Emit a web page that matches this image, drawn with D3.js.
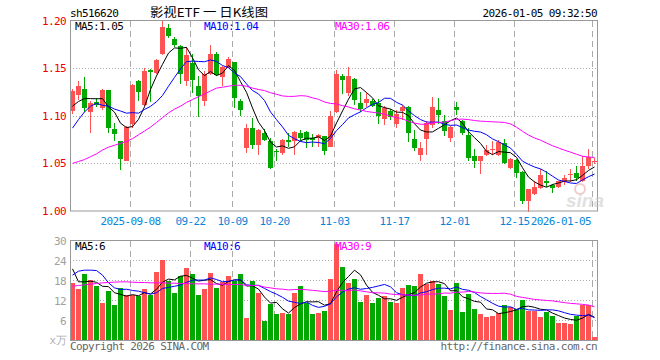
<!DOCTYPE html>
<html><head><meta charset="utf-8">
<script src="https://cdn.jsdelivr.net/npm/d3@7/dist/d3.min.js"></script>
<style>
body{margin:0;background:#fff}
svg{display:block}
text{font-family:"DejaVu Sans Mono","Liberation Mono",monospace;font-size:11px;letter-spacing:-0.6px}
</style>
</head><body>
<svg id="c" width="660" height="360"></svg>
<script>
const dates = [
"2025-08-25","2025-08-26","2025-08-27","2025-08-28","2025-08-29",
"2025-09-01","2025-09-02","2025-09-03","2025-09-04","2025-09-05",
"2025-09-08","2025-09-09","2025-09-10","2025-09-11","2025-09-12",
"2025-09-15","2025-09-16","2025-09-17","2025-09-18","2025-09-19",
"2025-09-22","2025-09-23","2025-09-24","2025-09-25","2025-09-26",
"2025-09-29","2025-09-30","2025-10-09","2025-10-10",
"2025-10-13","2025-10-14","2025-10-15","2025-10-16","2025-10-17",
"2025-10-20","2025-10-21","2025-10-22","2025-10-23","2025-10-24",
"2025-10-27","2025-10-28","2025-10-29","2025-10-30","2025-10-31",
"2025-11-03","2025-11-04","2025-11-05","2025-11-06","2025-11-07",
"2025-11-10","2025-11-11","2025-11-12","2025-11-13","2025-11-14",
"2025-11-17","2025-11-18","2025-11-19","2025-11-20","2025-11-21",
"2025-11-24","2025-11-25","2025-11-26","2025-11-27","2025-11-28",
"2025-12-01","2025-12-02","2025-12-03","2025-12-04","2025-12-05",
"2025-12-08","2025-12-09","2025-12-10","2025-12-11","2025-12-12",
"2025-12-15","2025-12-16","2025-12-17","2025-12-18","2025-12-19",
"2025-12-22","2025-12-23","2025-12-24","2025-12-25","2025-12-26",
"2025-12-29","2025-12-30","2025-12-31","2026-01-05"];

const open = [1.105,1.122,1.128,1.104,1.114,1.108,1.127,1.086,1.073,1.053,
1.091,1.136,1.111,1.148,1.145,1.165,1.192,1.181,1.173,1.136,
1.155,1.131,1.116,1.144,1.165,1.141,1.150,1.156,1.116,1.066,
1.087,1.069,1.082,1.073,1.063,1.061,1.075,1.073,1.082,1.083,
1.077,1.077,1.079,1.067,1.104,1.142,1.124,1.139,1.113,1.113,
1.116,1.113,1.097,1.105,1.091,1.105,1.109,1.076,1.059,1.076,
1.090,1.106,1.095,1.077,1.109,1.094,1.080,1.058,1.052,1.059,
1.064,1.059,1.071,1.045,1.054,1.041,1.011,1.018,1.024,1.031,
1.027,1.025,1.030,1.038,1.040,1.031,1.047,1.053];
const high = [1.128,1.137,1.141,1.115,1.119,1.128,1.127,1.092,1.074,1.089,
1.133,1.138,1.150,1.149,1.160,1.199,1.196,1.183,1.174,1.172,
1.165,1.142,1.147,1.174,1.167,1.152,1.162,1.156,1.118,1.091,
1.098,1.086,1.086,1.077,1.065,1.076,1.082,1.084,1.085,1.084,
1.081,1.081,1.079,1.105,1.148,1.144,1.151,1.140,1.125,1.124,
1.118,1.118,1.110,1.107,1.106,1.111,1.110,1.085,1.072,1.095,
1.120,1.119,1.101,1.089,1.114,1.096,1.087,1.065,1.058,1.069,
1.073,1.075,1.076,1.056,1.055,1.042,1.023,1.031,1.044,1.042,
1.028,1.032,1.038,1.044,1.047,1.058,1.065,1.056];
const low = [1.102,1.117,1.104,1.082,1.109,1.106,1.082,1.074,1.043,1.052,
1.087,1.115,1.110,1.114,1.144,1.164,1.182,1.172,1.133,1.131,
1.124,1.099,1.110,1.143,1.142,1.131,1.150,1.108,1.100,1.061,
1.065,1.059,1.073,1.044,1.052,1.059,1.067,1.059,1.073,1.066,
1.067,1.067,1.059,1.067,1.103,1.123,1.121,1.111,1.104,1.109,
1.109,1.091,1.090,1.096,1.087,1.096,1.072,1.063,1.052,1.059,
1.087,1.091,1.079,1.072,1.101,1.080,1.052,1.045,1.039,1.058,
1.059,1.058,1.049,1.044,1.035,1.007,0.999,1.017,1.023,1.025,
1.019,1.024,1.027,1.030,1.031,1.030,1.044,1.049];
const close = [1.126,1.131,1.108,1.113,1.111,1.127,1.087,1.081,1.055,1.088,
1.132,1.125,1.147,1.146,1.159,1.193,1.184,1.174,1.144,1.164,
1.138,1.121,1.144,1.165,1.143,1.151,1.160,1.119,1.106,1.087,
1.069,1.085,1.075,1.045,1.062,1.075,1.072,1.083,1.077,1.075,
1.075,1.080,1.063,1.100,1.144,1.138,1.142,1.117,1.107,1.118,
1.110,1.100,1.108,1.099,1.102,1.109,1.082,1.066,1.066,1.092,
1.109,1.101,1.084,1.088,1.106,1.082,1.056,1.053,1.058,1.064,
1.065,1.072,1.050,1.055,1.040,1.010,1.023,1.025,1.038,1.029,
1.024,1.031,1.035,1.039,1.035,1.047,1.057,1.053];
const volume = [17.3,15.5,20,18.2,16.3,11.3,15,10.8,15.8,13.6,
13.6,13.3,15.5,13.8,20.6,24.2,18,14.3,19.3,21.8,
20,13.8,15.5,20.3,15.8,17.6,19.3,18,20,6.8,
18,14.3,6,11,8,8.2,8,14.3,16.3,11.3,
8,8.3,9,18.6,29,22.1,17.3,18.5,11.6,13.6,
11.3,12.8,13.3,11.6,11.3,15.8,16.7,16.4,20,17,
17.8,17,13.4,9.3,17.3,8.6,14,9.5,8.1,7.1,
7.4,8.3,10.7,10,9.6,12.2,9,9,7.1,8.6,
7.4,5.3,5.3,5,7.3,10.7,10.7,1.2];

// moving-average values before enough bars are on screen
const priceMa5Head = [1.110,1.115,1.118,1.118];
const priceMa10Head = [1.087,1.096,1.104,1.110,1.113,1.111,1.110,1.107,1.105];
const priceMa30Head = [1.050,1.052,1.054,1.057,1.060,1.064,1.067,1.069,1.071,1.073,
1.076,1.080,1.084,1.088,1.093,1.098,1.103,1.107,1.110,1.114,
1.117,1.120,1.123,1.126,1.129,1.130,1.131,1.132,1.132];
const volMa5Head = [21.5,17.6,17.6,17.8];
const volMa10Head = [19.6,20.8,21.1,21.1,21.0,19.6,17.3,15.8,15.3];
const volMa30Head = [16.3,16.5,16.7,16.9,17.1,17.3,17.4,17.5,17.6,17.6,
17.5,17.4,17.4,17.3,17.3,17.3,17.2,17.2,17.1,17.1,
17.0,17.0,17.0,16.9,16.9,16.9,16.8,16.8,16.8];

const priceTicks = [1.00,1.05,1.10,1.15,1.20];
const volTicks = [6,12,18,24,30];
const dateTicks = ["2025-09-08","2025-09-22","2025-10-09","2025-10-20","2025-11-03","2025-11-17","2025-12-01","2025-12-15","2026-01-05"];
const dateTickLabels = ["2025-09-08","09-22","10-09","10-20","11-03","11-17","12-01","12-15","2026-01-05"];

const legendPrice = ["MA5:1.05","MA10:1.04","MA30:1.06"];
const legendVol = ["MA5:6","MA10:6","MA30:9"];

function movingAvg(vals, n, head){
  return vals.map((v,i)=>{
    if(i < n-1) return head[i];
    return d3.mean(vals.slice(i-n+1,i+1));
  });
}

const svg = d3.select("#c");
const L=70, R=597;
const x = d3.scaleBand().domain(dates).range([L,R]).paddingInner(1/6).paddingOuter(0).align(0);
const bw = x.bandwidth();
const cx = d => x(d)+bw/2;
const yP = d3.scaleLinear().domain([1.0,1.2]).range([211,20.5]);
const yV = d3.scaleLinear().domain([0,30]).range([340.5,240.5]);

const RED="#ff5252", GREEN="#00a800", GRID="#aaaaaa", FRAME="#999999";
const idx = d3.range(dates.length);
const isUp = i => close[i] >= open[i];

// ---------- main panel ----------
const gP = svg.append("g");
gP.selectAll(".hg").data([1.05,1.10,1.15]).join("line")
  .attr("x1",L).attr("x2",R).attr("y1",d=>Math.round(yP(d))+0.5).attr("y2",d=>Math.round(yP(d))+0.5)
  .attr("stroke",GRID).attr("stroke-dasharray","1,2");
gP.selectAll(".vg").data(dateTicks).join("line")
  .attr("x1",d=>x(d)+0.5).attr("x2",d=>x(d)+0.5).attr("y1",21).attr("y2",211)
  .attr("stroke",GRID).attr("stroke-dasharray","6,4");

const cg = gP.append("g").attr("shape-rendering","crispEdges");
cg.selectAll(".wick").data(idx).join("line")
  .attr("x1",i=>x(dates[i])+2.5).attr("x2",i=>x(dates[i])+2.5)
  .attr("y1",i=>yP(high[i])).attr("y2",i=>yP(low[i]))
  .attr("stroke",i=>isUp(i)?RED:GREEN);
cg.selectAll(".body").data(idx).join("rect")
  .attr("x",i=>x(dates[i])).attr("width",bw)
  .attr("y",i=>yP(Math.max(open[i],close[i])))
  .attr("height",i=>Math.max(1,yP(Math.min(open[i],close[i]))-yP(Math.max(open[i],close[i]))))
  .attr("fill",i=>isUp(i)?RED:GREEN);

const pm = [movingAvg(close,5,priceMa5Head),movingAvg(close,10,priceMa10Head),movingAvg(close,30,priceMa30Head)];
const maColors = ["#000000","#0000ff","#ff00ff"];
const lineP = d3.line().x((v,i)=>cx(dates[i])).y(v=>yP(v));
pm.forEach((arr,k)=>gP.append("path").attr("d",lineP(arr)).attr("fill","none").attr("stroke",maColors[k]).attr("stroke-width",1));

gP.append("rect").attr("x",L+0.5).attr("y",20.5).attr("width",R-L).attr("height",211-20.5)
  .attr("fill","none").attr("stroke",FRAME);

// watermark
const wm = gP.append("g").attr("opacity",0.55);
wm.append("circle").attr("cx",580).attr("cy",189).attr("r",5).attr("fill","none").attr("stroke","#e9a0a0").attr("stroke-width",2);
wm.append("text").attr("x",566).attr("y",207).text("sina")
  .style("font-family","Liberation Sans,Arial,sans-serif").style("font-size","19px").style("font-style","italic").style("font-weight","bold").style("letter-spacing","0px").attr("fill","#c8c8c8");

gP.selectAll(".pt").data(priceTicks).join("text")
  .attr("x",66).attr("y",d=>yP(d)+4).attr("text-anchor","end").attr("fill","#ee0000").text(d=>d.toFixed(2));
gP.selectAll(".dt").data(dateTicks).join("text")
  .attr("x",(d,i)=> i===dateTicks.length-1 ? 591 : x(d)+0.5)
  .attr("text-anchor",(d,i)=> i===dateTicks.length-1 ? "end" : "middle")
  .attr("y",225).attr("fill","#0a86d8").text((d,i)=>dateTickLabels[i]);

const lx = [75,204,335];
legendPrice.forEach((t,k)=>gP.append("text").attr("x",lx[k]).attr("y",30).attr("fill",maColors[k]).text(t));

// ---------- volume panel ----------
const gV = svg.append("g");
gV.selectAll(".hg").data([6,12,18,24]).join("line")
  .attr("x1",L).attr("x2",R).attr("y1",d=>yV(d)).attr("y2",d=>yV(d))
  .attr("stroke",GRID).attr("stroke-dasharray","1,2");
gV.selectAll(".vg").data(dateTicks).join("line")
  .attr("x1",d=>x(d)+0.5).attr("x2",d=>x(d)+0.5).attr("y1",241).attr("y2",340)
  .attr("stroke",GRID).attr("stroke-dasharray","6,4");
gV.append("g").attr("shape-rendering","crispEdges").selectAll("rect").data(idx).join("rect")
  .attr("x",i=>x(dates[i])).attr("width",bw)
  .attr("y",i=>yV(volume[i])).attr("height",i=>yV(0)-yV(volume[i]))
  .attr("fill",i=>isUp(i)?RED:GREEN);
const vm = [movingAvg(volume,5,volMa5Head),movingAvg(volume,10,volMa10Head),movingAvg(volume,30,volMa30Head)];
const lineV = d3.line().x((v,i)=>cx(dates[i])).y(v=>yV(v));
vm.forEach((arr,k)=>gV.append("path").attr("d",lineV(arr)).attr("fill","none").attr("stroke",maColors[k]).attr("stroke-width",1));
gV.append("rect").attr("x",L+0.5).attr("y",240.5).attr("width",R-L).attr("height",100)
  .attr("fill","none").attr("stroke",FRAME);
gV.selectAll(".vt").data(volTicks).join("text")
  .attr("x",66).attr("y",d=>yV(d)+4).attr("text-anchor","end").attr("fill","#a0a0a0").text(d=>d);
gV.append("text").attr("x",66).attr("y",344).attr("text-anchor","end").attr("fill","#b0b0b0").text("x万");
legendVol.forEach((t,k)=>gV.append("text").attr("x",lx[k]).attr("y",250).attr("fill",maColors[k]).text(t));

// ---------- header / footer ----------
svg.append("text").attr("x",70).attr("y",17).attr("fill","#000").text("sh516620");
svg.append("text").attr("x",150).attr("y",17).attr("fill","#000")
  .attr("textLength",118).attr("lengthAdjust","spacingAndGlyphs")
  .style("font-family","'Noto Sans CJK SC',sans-serif").style("font-size","12px").style("letter-spacing","0px")
  .text("影视ETF 一 日K线图");
svg.append("text").attr("x",597).attr("y",17).attr("text-anchor","end").attr("fill","#000").text("2026-01-05 09:32:50");
svg.append("text").attr("x",70).attr("y",350).attr("fill","#666").text("Copyright 2026 SINA.COM");
svg.append("text").attr("x",597).attr("y",350).attr("text-anchor","end").attr("fill","#666").text("http://finance.sina.com.cn");
</script>
</body></html>
